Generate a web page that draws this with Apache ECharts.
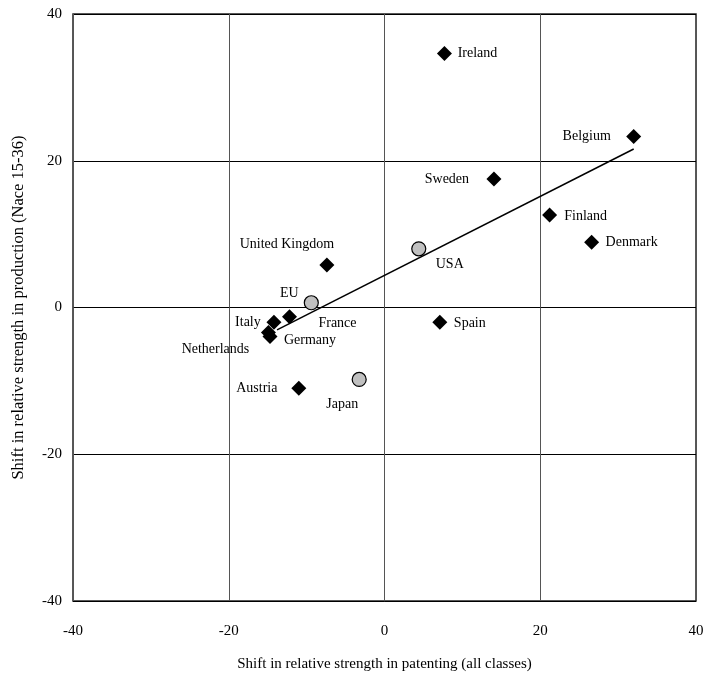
<!DOCTYPE html>
<html>
<head>
<meta charset="utf-8">
<script src="https://cdn.jsdelivr.net/npm/echarts@6/dist/echarts.min.js"></script>
<style>
  html, body { margin: 0; padding: 0; background: #fff; }
  #chart { width: 705px; height: 675px; }
</style>
</head>
<body>
<div id="chart"></div>
<script>
// Countries: shift in patenting strength (x) vs shift in production strength (y)
const countries = ['Ireland', 'Belgium', 'Sweden', 'Finland', 'Denmark', 'United Kingdom',
  'Spain', 'France', 'Italy', 'Netherlands', 'Germany', 'Austria'];
const countryPatent = [7.7, 32.0, 14.05, 21.2, 26.6, -7.4, 7.1, -12.2, -14.2, -14.9, -14.7, -11.0];
const countryProduction = [34.6, 23.3, 17.5, 12.6, 8.9, 5.8, -2.0, -1.25, -2.0, -3.4, -3.95, -11.0];

// Aggregate regions
const regions = ['EU', 'USA', 'Japan'];
const regionPatent = [-9.4, 4.4, -3.25];
const regionProduction = [0.65, 8.0, -9.8];

// Fitted trend line end points
const trendX = [-13.8, 32.0];
const trendY = [-3.06, 21.6];

// Axis ticks
const axisMin = -40, axisMax = 40, axisStep = 20;

// Label placement around each marker (dx, dy in pixels)
const labelOffset = {
  'Ireland': [33, 0], 'Belgium': [-47, 0], 'Sweden': [-47, 0], 'Finland': [36, 1],
  'Denmark': [40, 0], 'United Kingdom': [-40, -21], 'Spain': [30, 1], 'France': [48, 7],
  'Italy': [-26, 0], 'Netherlands': [-53, 17], 'Germany': [40, 4], 'Austria': [-42, 0],
  'EU': [-22, -9], 'USA': [31, 16], 'Japan': [-17, 25]
};

const serif = '"Liberation Serif", "Times New Roman", serif';

function points(names, xs, ys) {
  return names.map((n, i) => ({
    name: n,
    value: [xs[i], ys[i]],
    label: { offset: labelOffset[n] }
  }));
}

const pointLabel = {
  show: true,
  position: 'inside',
  formatter: '{b}',
  color: '#000',
  opacity: 1,
  fontFamily: serif,
  fontSize: 14,
  align: 'center',
  verticalAlign: 'middle'
};

const chart = echarts.init(document.getElementById('chart'));
chart.setOption({
  animation: false,
  backgroundColor: '#fff',
  grid: {
    left: 73, right: 9, top: 14, bottom: 74,
    outerBoundsMode: 'none', containLabel: false,
    show: true, borderColor: '#222', borderWidth: 1.5, backgroundColor: 'transparent'
  },
  xAxis: {
    type: 'value', min: axisMin, max: axisMax, interval: axisStep,
    name: 'Shift in relative strength in patenting (all classes)',
    nameLocation: 'middle', nameGap: 56,
    nameTextStyle: { fontFamily: serif, fontSize: 15, color: '#000' },
    axisLine: { show: false }, axisTick: { show: false },
    axisLabel: { fontFamily: serif, fontSize: 15, color: '#000', margin: 23 },
    splitLine: { show: true, lineStyle: { color: '#555', width: 1 } }
  },
  yAxis: {
    type: 'value', min: axisMin, max: axisMax, interval: axisStep,
    name: 'Shift in relative strength in production (Nace 15-36)',
    nameLocation: 'middle', nameGap: 46, nameRotate: 90,
    nameTextStyle: { fontFamily: serif, fontSize: 16.5, color: '#000' },
    axisLine: { show: false }, axisTick: { show: false },
    axisLabel: { fontFamily: serif, fontSize: 15, color: '#000', margin: 11 },
    splitLine: { show: true, lineStyle: { color: '#000', width: 1 } }
  },
  series: [
    {
      type: 'line',
      data: trendX.map((x, i) => [x, trendY[i]]),
      showSymbol: false, symbol: 'none',
      lineStyle: { color: '#000', width: 1.5 },
      silent: true, z: 2
    },
    {
      type: 'scatter',
      symbol: 'diamond', symbolSize: 15,
      itemStyle: { color: '#000', opacity: 1 },
      label: pointLabel,
      data: points(countries, countryPatent, countryProduction),
      z: 3
    },
    {
      type: 'scatter',
      symbol: 'circle', symbolSize: 14,
      itemStyle: { color: '#c0c0c0', borderColor: '#000', borderWidth: 1.2, opacity: 1 },
      label: pointLabel,
      data: points(regions, regionPatent, regionProduction),
      z: 4
    }
  ]
});
</script>
</body>
</html>
